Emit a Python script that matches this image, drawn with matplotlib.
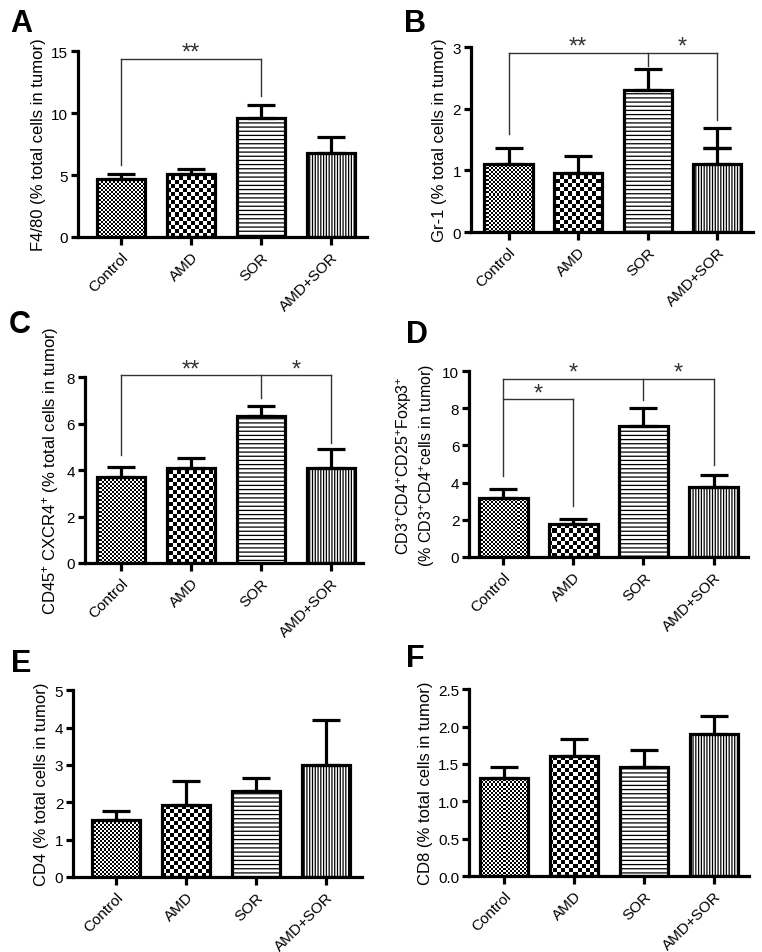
import matplotlib
matplotlib.use("Agg")
import matplotlib.pyplot as plt
import numpy as np

plt.rcParams['font.family'] = ['Liberation Sans', 'DejaVu Sans']
plt.rcParams['mathtext.fontset'] = 'custom'
plt.rcParams['mathtext.rm'] = 'Liberation Sans'
plt.rcParams['mathtext.it'] = 'Liberation Sans:italic'
plt.rcParams['hatch.linewidth'] = 0.9

groups = ['Control', 'AMD', 'SOR', 'AMD+SOR']

# bar heights (mean) and top of error bar (mean + SEM)
a_mean = [4.65, 5.1, 9.6, 6.8]
a_top = [5.05, 5.45, 10.65, 8.05]
b_mean = [1.11, 0.95, 2.31, 1.10]
b_top = [1.37, 1.24, 2.65, 1.69]
b_extra_cap = [np.nan, np.nan, np.nan, 1.36]
c_mean = [3.69, 4.07, 6.33, 4.09]
c_top = [4.14, 4.5, 6.74, 4.9]
d_mean = [3.2, 1.76, 7.03, 3.76]
d_top = [3.67, 2.02, 8.04, 4.4]
e_mean = [1.53, 1.93, 2.3, 3.0]
e_top = [1.77, 2.57, 2.66, 4.2]
f_mean = [1.31, 1.61, 1.455, 1.9]
f_top = [1.455, 1.84, 1.69, 2.14]

ylabels = {
    'A': 'F4/80 (% total cells in tumor)',
    'B': 'Gr-1 (% total cells in tumor)',
    'C': 'CD45$^{+}$ CXCR4$^{+}$ (% total cells in tumor)',
    'D': 'CD3$^{+}$CD4$^{+}$CD25$^{+}$Foxp3$^{+}$\n(% CD3$^{+}$CD4$^{+}$cells in tumor)',
    'E': 'CD4 (% total cells in tumor)',
    'F': 'CD8 (% total cells in tumor)',
}

# significance brackets: group indices, line height, leg bottoms, star labels
brackets = {
    'A': [([0, 2], 14.4, [5.8, 11.4], [(0, 2, '**')])],
    'B': [([0, 2, 3], 2.91, [1.59, 2.70, 1.82], [(0, 2, '**'), (2, 3, '*')])],
    'C': [([0, 2, 3], 8.09, [4.64, 7.1, 5.16], [(0, 2, '**'), (2, 3, '*')])],
    'D': [([0, 2, 3], 9.59, [4.34, 8.46, 4.96], [(0, 2, '*'), (2, 3, '*')]),
          ([0, 1], 8.49, [8.49, 2.72], [(0, 1, '*')])],
    'E': [],
    'F': [],
}

panels = {
    'A': dict(mean=a_mean, top=a_top, yticks=[0, 5, 10, 15], fmt='%d',
              pos=[0.1024, 0.7503, 0.379, 0.195], xl=(-0.61, 3.51),
              letter=(0.014, 0.9664), ysize=12),
    'B': dict(mean=b_mean, top=b_top, yticks=[0, 1, 2, 3], fmt='%d',
              pos=[0.618, 0.7555, 0.370, 0.194], xl=(-0.54, 3.51),
              letter=(0.530, 0.9664), ysize=12),
    'C': dict(mean=c_mean, top=c_top, yticks=[0, 2, 4, 6, 8], fmt='%d',
              pos=[0.1115, 0.4082, 0.365, 0.195], xl=(-0.51, 3.46),
              letter=(0.011, 0.6506), ysize=12),
    'D': dict(mean=d_mean, top=d_top, yticks=[0, 2, 4, 6, 8, 10], fmt='%d',
              pos=[0.6155, 0.4145, 0.366, 0.195], xl=(-0.49, 3.49),
              letter=(0.533, 0.640), ysize=11.5),
    'E': dict(mean=e_mean, top=e_top, yticks=[0, 1, 2, 3, 4, 5], fmt='%d',
              pos=[0.0958, 0.0787, 0.379, 0.196], xl=(-0.61, 3.51),
              letter=(0.014, 0.2949), ysize=12),
    'F': dict(mean=f_mean, top=f_top, yticks=[0, 0.5, 1.0, 1.5, 2.0, 2.5], fmt='%.1f',
              pos=[0.6155, 0.0797, 0.367, 0.196], xl=(-0.5, 3.5),
              letter=(0.533, 0.300), ysize=12),
}

LW = 2.3
fig = plt.figure(figsize=(7.62, 9.53), dpi=100)


def checker(ax, patch, cell_px):
    pos = ax.get_position()
    w = pos.width * fig.get_figwidth() * fig.dpi
    h = pos.height * fig.get_figheight() * fig.dpi
    nx, ny = int(round(w / cell_px)), int(round(h / cell_px))
    arr = (np.add.outer(np.arange(ny), np.arange(nx)) % 2).astype(float)
    im = ax.imshow(arr, extent=[0, 1, 0, 1], transform=ax.transAxes, cmap='gray',
                   interpolation='nearest', aspect='auto', zorder=1.5)
    im.set_clip_path(patch)


for key, p in panels.items():
    ax = fig.add_axes(p['pos'])
    x = np.arange(len(groups))
    mean = np.array(p['mean'])
    top = np.array(p['top'])
    bars = ax.bar(x, mean, width=0.69, facecolor='white', edgecolor='black',
                  linewidth=LW, zorder=2)
    bars[0].set_facecolor('none')
    bars[1].set_facecolor('none')
    bars[2].set_hatch('----')
    bars[3].set_hatch('||||||')
    checker(ax, bars[0], 2)
    checker(ax, bars[1], 4)
    ax.errorbar(x, mean, yerr=[np.zeros(4), top - mean], fmt='none', ecolor='black',
                elinewidth=LW, capsize=10, capthick=LW, zorder=3)
    if key == 'B':
        extra = np.array(b_extra_cap)
        ax.errorbar(x, extra, yerr=0, fmt='none', ecolor='black',
                    elinewidth=LW, capsize=10, capthick=LW, zorder=3)

    for idx, yline, legs, stars in brackets[key]:
        ax.plot([idx[0], idx[-1]], [yline, yline], color='#333333', lw=1.0,
                clip_on=False, zorder=4)
        for i, lb in zip(idx, legs):
            ax.plot([i, i], [yline, lb], color='#333333', lw=1.0, clip_on=False, zorder=4)
        for i0, i1, s in stars:
            ax.text((i0 + i1) / 2, yline, s, ha='center', va='baseline',
                    fontsize=17, color='#333333', clip_on=False)

    ax.set_xlim(*p['xl'])
    ax.set_ylim(0, p['yticks'][-1])
    ax.set_yticks(p['yticks'])
    ax.set_yticklabels([p['fmt'] % t for t in p['yticks']])
    ax.set_xticks(x)
    ax.set_xticklabels(groups, rotation=45, ha='right', rotation_mode='anchor')
    for s in ['top', 'right']:
        ax.spines[s].set_visible(False)
    for s in ['left', 'bottom']:
        ax.spines[s].set_linewidth(LW)
    ax.tick_params(axis='both', width=LW, length=5, labelsize=11, pad=2)
    ax.tick_params(axis='x', length=6, pad=3)
    ax.set_ylabel(ylabels[key], fontsize=p['ysize'], labelpad=4)
    fig.text(p['letter'][0], p['letter'][1], key, fontsize=22, fontweight='bold',
             va='baseline', ha='left')

fig.savefig('out.png', dpi=100)
